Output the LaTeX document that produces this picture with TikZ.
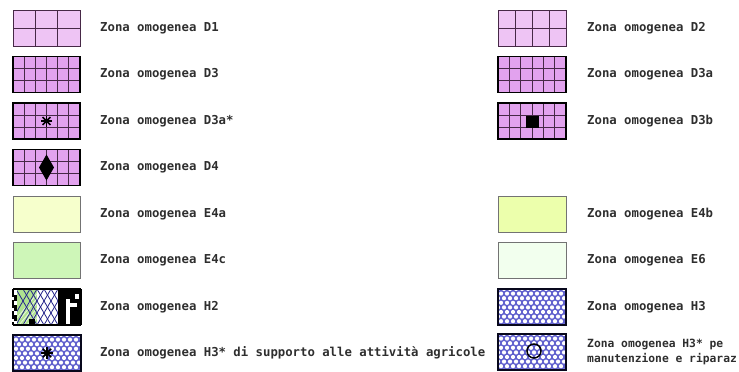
\documentclass[tikz,border=0pt]{standalone}
\usepackage{fontspec}
\setmainfont{Liberation Sans}
\newfontfamily\lbl{DejaVu Sans Mono}
\usetikzlibrary{calc}
\definecolor{pinkL}{RGB}{238,196,244}
\definecolor{pinkD}{RGB}{226,162,238}
\definecolor{gridc}{RGB}{70,40,70}
\definecolor{eA}{RGB}{246,255,204}
\definecolor{eB}{RGB}{236,255,172}
\definecolor{eC}{RGB}{206,246,184}
\definecolor{eS}{RGB}{242,255,238}
\definecolor{navy}{RGB}{40,40,140}
\definecolor{hblue}{RGB}{95,95,205}
\definecolor{hgreen}{RGB}{176,226,144}
\newcommand\gridlines[3]{%
  \foreach \f in {#2} \draw[gridl] ($(#1.north west)!\f!(#1.north east)$) -- ($(#1.south west)!\f!(#1.south east)$);
  \foreach \f in {#3} \draw[gridl] ($(#1.north west)!\f!(#1.south west)$) -- ($(#1.north east)!\f!(#1.south east)$);}
\newcommand\dotlattice[1]{%
  \begin{scope}
    \clip (#1.north west) rectangle (#1.south east);
    \fill[hblue] (#1.north west) rectangle (#1.south east);
    \foreach \r in {0,...,8} {
      \pgfmathsetmacro\off{mod(\r,2)*3}
      \foreach \c in {0,...,12} {
        \fill[white] ($(#1.north west)+(\c*6+\off,\r*4.6)$) circle (2.1);
      }
    }
  \end{scope}}
\tikzset{
  box/.style={minimum width=67pt, minimum height=36pt, inner sep=0pt, outer sep=0pt},
  thinb/.style={draw=gridc, line width=0.9pt},
  thickb/.style={draw=black, line width=1.9pt},
  grayb/.style={draw=black!55, line width=0.9pt},
  hb/.style={draw=black!80!navy, line width=1.5pt},
  gridl/.style={draw=gridc, line width=0.9pt},
  lab/.style={anchor=west, inner sep=0pt, text=black!82, font=\lbl\bfseries\fontsize{12.3}{15}\selectfont, align=left},
}
\begin{document}
\begin{tikzpicture}[x=1pt,y=-1pt]
\useasboundingbox (0,0) rectangle (739,372);
\clip (0,0) rectangle (739,372);

% ---------- left column ----------
\node[box, fill=pinkL] (d1) at (46.5,28) {};
\gridlines{d1}{1/3,2/3}{1/2}
\draw[thinb] (d1.north west) rectangle (d1.south east);
\node[lab] (td1) at (100,28) {Zona omogenea D1};

\node[box, fill=pinkD] (d3) at (46.5,74.5) {};
\gridlines{d3}{1/6,2/6,3/6,4/6,5/6}{1/3,2/3}
\draw[thickb] (d3.north west) rectangle (d3.south east);
\node[lab] (td3) at (100,74.5) {Zona omogenea D3};

\node[box, fill=pinkD] (d3as) at (46.5,121) {};
\gridlines{d3as}{1/6,2/6,3/6,4/6,5/6}{1/3,2/3}
\draw[thickb] (d3as.north west) rectangle (d3as.south east);
\foreach \a in {0,45,90,135} \draw[line width=1.6pt] ($(d3as.center)+(\a:5.5)$) -- ($(d3as.center)+(\a+180:5.5)$);
\node[lab] (td3as) at (100,121) {Zona omogenea D3a*};

\node[box, fill=pinkD] (d4) at (46.5,167.5) {};
\gridlines{d4}{1/6,2/6,3/6,4/6,5/6}{1/3,2/3}
\draw[thickb] (d4.north west) rectangle (d4.south east);
\fill[black] ($(d4.center)+(0,-13)$) -- ($(d4.center)+(7.5,0)$) -- ($(d4.center)+(0,13)$) -- ($(d4.center)+(-7.5,0)$) -- cycle;
\node[lab] (td4) at (100,167.5) {Zona omogenea D4};

\node[box, fill=eA, grayb] (e4a) at (46.5,214) {};
\node[lab] (te4a) at (100,214) {Zona omogenea E4a};

\node[box, fill=eC, grayb] (e4c) at (46.5,260.5) {};
\node[lab] (te4c) at (100,260.5) {Zona omogenea E4c};

% H2
\node[box, minimum width=68pt, fill=white] (h2) at (47,307) {};
\begin{scope}
  \clip (h2.north west) rectangle (h2.south east);
  \fill[hgreen] ($(h2.north west)+(4,0)$) rectangle ($(h2.south west)+(24,0)$);
  \foreach \k in {-6,-2,...,40} \draw[white!70!hgreen, line width=0.8pt] ($(h2.south west)+(4+\k,0)$) -- ++(30,-36);
  \fill[white] ($(h2.north west)+(24,0)$) rectangle ($(h2.south west)+(45,0)$);
  \foreach \k in {-21,-14,...,30} {
    \draw[navy, line width=0.8pt] ($(h2.north west)+(24+\k,0)$) -- ++(21,36);
    \draw[navy, line width=0.8pt] ($(h2.north west)+(45-\k,0)$) -- ++(-21,36);
  }
  \fill[white] ($(h2.north west)+(0,0)$) rectangle ($(h2.south west)+(4,0)$);
  \fill[black] ($(h2.north west)+(45,0)$) rectangle (h2.south east);
  \fill[white] ($(h2.north west)+(53,10)$) rectangle ($(h2.north west)+(57,36)$);
  \fill[white] ($(h2.north west)+(57,14)$) rectangle ($(h2.north west)+(64,18)$);
  \fill[white] ($(h2.north west)+(62,5)$) rectangle ($(h2.north west)+(66,10)$);
  \fill[black] ($(h2.north west)+(16,30)$) rectangle ($(h2.north west)+(22,36)$);
  \foreach \yy in {6,16,26} \fill[black] ($(h2.north west)+(1,\yy)$) rectangle ++(3,6);
\end{scope}
\draw[black, line width=2.4pt] (h2.north west) -- (h2.north east);
\draw[black, line width=2.4pt] (h2.south west) -- (h2.south east);
\draw[black, line width=2.4pt, dash pattern=on 8pt off 3pt] (h2.north west) -- (h2.south west);
\draw[black, line width=2.4pt] (h2.north east) -- (h2.south east);
\node[lab] (th2) at (100,307) {Zona omogenea H2};

% H3*
\node[box, minimum width=68pt] (h3s) at (47,353) {};
\dotlattice{h3s}
\draw[hb] (h3s.north west) rectangle (h3s.south east);
\foreach \a in {0,45,90,135} \draw[line width=1.7pt] ($(h3s.center)+(\a:6)$) -- ($(h3s.center)+(\a+180:6)$);
\fill[black] (h3s.center) circle (3);
\node[lab] (th3s) at (100,353) {Zona omogenea H3* di supporto alle attività agricole};

% ---------- right column ----------
\node[box, minimum width=68pt, fill=pinkL] (d2) at (532,28) {};
\gridlines{d2}{1/4,2/4,3/4}{1/2}
\draw[thinb] (d2.north west) rectangle (d2.south east);
\node[lab] (td2) at (587,28) {Zona omogenea D2};

\node[box, minimum width=68pt, fill=pinkD] (d3a) at (532,74.5) {};
\gridlines{d3a}{1/6,2/6,3/6,4/6,5/6}{1/3,2/3}
\draw[thickb] (d3a.north west) rectangle (d3a.south east);
\node[lab] (td3a) at (587,74.5) {Zona omogenea D3a};

\node[box, minimum width=68pt, fill=pinkD] (d3b) at (532,121) {};
\gridlines{d3b}{1/6,2/6,3/6,4/6,5/6}{1/3,2/3}
\draw[thickb] (d3b.north west) rectangle (d3b.south east);
\fill[black] ($(d3b.center)+(-6,-5.5)$) rectangle ($(d3b.center)+(6.5,7)$);
\node[lab] (td3b) at (587,121) {Zona omogenea D3b};

\node[box, minimum width=68pt, fill=eB, grayb] (e4b) at (532,214) {};
\node[lab] (te4b) at (587,214) {Zona omogenea E4b};

\node[box, minimum width=68pt, fill=eS, grayb] (e6) at (532,260.5) {};
\node[lab] (te6) at (587,260.5) {Zona omogenea E6};

\node[box, minimum width=68pt] (h3) at (532,307) {};
\dotlattice{h3}
\draw[hb] (h3.north west) rectangle (h3.south east);
\node[lab] (th3) at (587,307) {Zona omogenea H3};

\node[box, minimum width=68pt] (h3p) at (532,352) {};
\dotlattice{h3p}
\draw[hb] (h3p.north west) rectangle (h3p.south east);
\draw[black, line width=1.5pt] ($(h3p.center)+(2,-1)$) circle (7);
\node[lab, font=\lbl\bfseries\fontsize{11.3}{14.5}\selectfont] (th3p) at (587,352) {Zona omogenea H3* pe\\manutenzione e riparaz};
\end{tikzpicture}
\end{document}
